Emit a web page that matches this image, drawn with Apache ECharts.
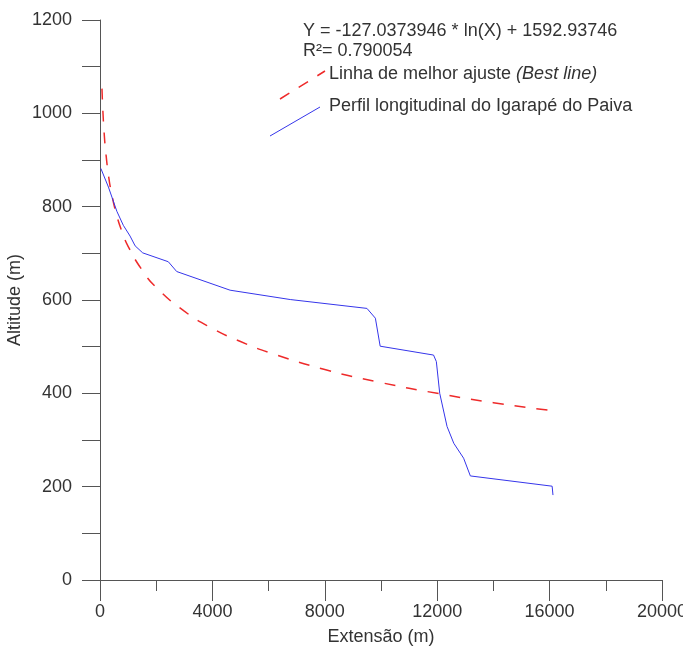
<!DOCTYPE html>
<html>
<head>
<meta charset="utf-8">
<script src="https://cdn.jsdelivr.net/npm/echarts@6/dist/echarts.min.js"></script>
<style>
  html, body { margin: 0; padding: 0; background: #fff; }
  #main { width: 683px; height: 646px; }
</style>
</head>
<body>
<div id="main"></div>
<script>
// longitudinal profile of the stream (x = extensao m, y = altitude m)
const profileX = [30, 300, 600, 830, 1070, 1250, 1520, 2430, 2730, 4630, 6770, 9500, 9800, 9970, 11870, 11970, 12090, 12350, 12590, 12940, 13180, 16090, 16120];
const profileY = [882, 842, 790, 760, 737, 716, 701, 682, 661, 621, 601, 582, 561, 501, 482, 468, 400, 329, 293, 261, 223, 201, 182];

// best fit line
const fitX = [70, 100, 150, 200, 300, 400, 600, 800, 1000, 1500, 2000, 3000, 4000, 5000, 6000, 8000, 10000, 12000, 14000, 16200];
const fitY = [1053, 1008, 956, 920, 868, 832, 780, 744, 715, 664, 627, 576, 539, 511, 488, 451, 423, 400, 380, 362];

const xTicks = [0, 4000, 8000, 12000, 16000, 20000];
const yTicks = [0, 200, 400, 600, 800, 1000, 1200];

const legendFit = 'Linha de melhor ajuste';
const legendProfile = 'Perfil longitudinal do Igarapé do Paiva';
const equation = 'Y = -127.0373946 * ln(X) + 1592.93746';
const r2 = 'R²= 0.790054';

const zip = (xs, ys) => xs.map((x, i) => [x, ys[i]]);

const font = '"Liberation Sans", Arial, sans-serif';
const textColor = '#333';
const axisColor = '#555';

const chart = echarts.init(document.getElementById('main'));

const option = {
  animation: false,
  textStyle: { fontFamily: font },
  grid: { left: 100, right: 21, top: 20, bottom: 66, containLabel: false, outerBoundsMode: 'none' },
  xAxis: {
    type: 'value',
    min: xTicks[0],
    max: xTicks[xTicks.length - 1],
    interval: 4000,
    name: 'Extensão (m)',
    nameLocation: 'middle',
    nameGap: 48,
    nameMoveOverlap: false,
    nameTextStyle: { fontSize: 18, color: textColor, fontFamily: font },
    axisLine: { show: true, lineStyle: { color: axisColor, width: 1 } },
    axisTick: { show: true, length: 21, lineStyle: { color: axisColor } },
    minorTick: { show: true, splitNumber: 2, length: 11, lineStyle: { color: axisColor } },
    axisLabel: { fontSize: 18, color: textColor, margin: 23, fontFamily: font, formatter: v => String(v) },
    splitLine: { show: false }
  },
  yAxis: {
    type: 'value',
    min: yTicks[0],
    max: yTicks[yTicks.length - 1],
    interval: 100,
    name: 'Altitude (m)',
    nameLocation: 'middle',
    nameGap: 76,
    nameMoveOverlap: false,
    nameTextStyle: { fontSize: 18, color: textColor, fontFamily: font },
    axisLine: { show: true, lineStyle: { color: axisColor, width: 1 } },
    axisTick: { show: true, length: 18, lineStyle: { color: axisColor } },
    axisLabel: {
      fontSize: 18, color: textColor, margin: 28, fontFamily: font,
      formatter: v => (yTicks.indexOf(v) >= 0 ? String(v) : '')
    },
    splitLine: { show: false }
  },
  series: [
    {
      name: legendFit,
      type: 'line',
      data: zip(fitX, fitY),
      smooth: true,
      showSymbol: false,
      lineStyle: { color: '#ee2a2a', width: 1.5, type: [11, 11] },
      z: 2
    },
    {
      name: legendProfile,
      type: 'line',
      data: zip(profileX, profileY),
      showSymbol: false,
      lineStyle: { color: '#3535ea', width: 1 },
      z: 3
    }
  ],
  graphic: [
    { type: 'text', left: 303, top: 22, style: { text: equation, font: '18px ' + font, fill: textColor } },
    { type: 'text', left: 303, top: 42, style: { text: r2, font: '18px ' + font, fill: textColor } },
    {
      type: 'line',
      shape: { x1: 280, y1: 99, x2: 325, y2: 71 },
      style: { stroke: '#ee2a2a', lineWidth: 1.5, lineDash: [11, 11] }
    },
    {
      type: 'text', left: 329, top: 65,
      style: {
        text: '{n|' + legendFit + ' }{i|(Best line)}',
        rich: {
          n: { fontSize: 18, fontFamily: font, fill: textColor, color: textColor },
          i: { fontSize: 18, fontFamily: font, fontStyle: 'italic', fill: textColor, color: textColor }
        }
      }
    },
    {
      type: 'line',
      shape: { x1: 270, y1: 136, x2: 320, y2: 107 },
      style: { stroke: '#3535ea', lineWidth: 1 }
    },
    { type: 'text', left: 329, top: 97, style: { text: legendProfile, font: '18px ' + font, fill: textColor } }
  ]
};

chart.setOption(option);
</script>
</body>
</html>
